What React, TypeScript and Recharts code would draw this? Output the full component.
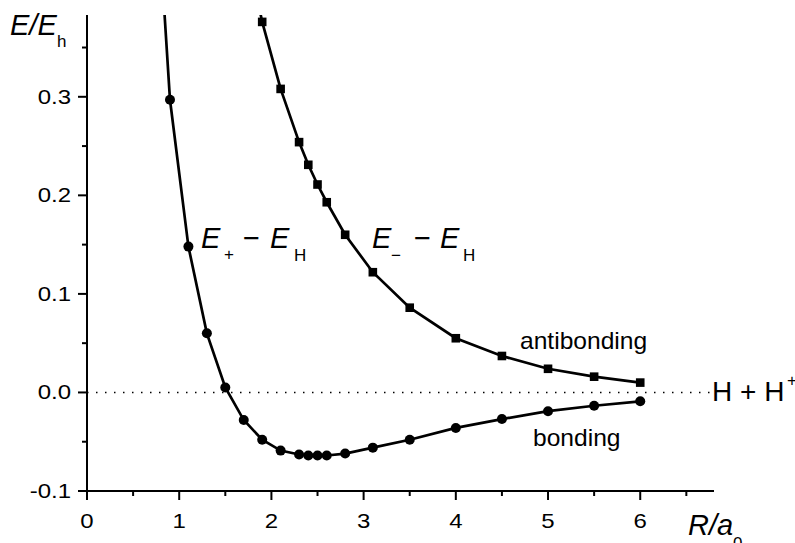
import React from "react";
import { LineChart, Line, XAxis, YAxis, ReferenceLine } from "recharts";

// R / a0 and E / Eh
const bondingR = [0.8, 0.9, 1.1, 1.3, 1.5, 1.7, 1.9, 2.1, 2.3, 2.4, 2.5, 2.6, 2.8, 3.1, 3.5, 4.0, 4.5, 5.0, 5.5, 6.0];
const bondingE = [0.444, 0.297, 0.148, 0.06, 0.005, -0.028, -0.048, -0.059, -0.063, -0.064, -0.064, -0.064, -0.062, -0.056, -0.048, -0.036, -0.027, -0.019, -0.0135, -0.009];

const antibondingR = [1.8, 1.9, 2.1, 2.3, 2.4, 2.5, 2.6, 2.8, 3.1, 3.5, 4.0, 4.5, 5.0, 5.5, 6.0];
const antibondingE = [0.42, 0.376, 0.308, 0.254, 0.231, 0.211, 0.193, 0.16, 0.122, 0.086, 0.055, 0.037, 0.024, 0.016, 0.01];

const xTicks = [0, 0.5, 1, 1.5, 2, 2.5, 3, 3.5, 4, 4.5, 5, 5.5, 6, 6.5];
const yTicks = [-0.1, -0.05, 0, 0.05, 0.1, 0.15, 0.2, 0.25, 0.3, 0.35];

const X_MAX = 6.8;
const Y_MIN = -0.1;
const Y_MAX = 0.383;
const FONT = "'Liberation Sans', Arial, sans-serif";

const bonding = bondingR.map((r, i) => ({ r, e: bondingE[i] }));
const antibonding = antibondingR.map((r, i) => ({ r, e: antibondingE[i] }));

function Txt({ x, y, size, italic = false, sx = 1, anchor = "start", children }: any) {
  return (
    <text
      transform={`translate(${x},${y}) scale(${sx},1)`}
      fontSize={size}
      fontStyle={italic ? "italic" : "normal"}
      fontFamily={FONT}
      textAnchor={anchor}
      fill="#000"
    >
      {children}
    </text>
  );
}

function XTick({ x, y, payload }: any) {
  const v = payload.value;
  const major = Number.isInteger(v);
  return (
    <g>
      <line x1={x} x2={x} y1={y} y2={y + (major ? 9 : 5)} stroke="#000" strokeWidth={2} />
      {major && <Txt x={x} y={y + 37} size={20} sx={1.2} anchor="middle">{String(v)}</Txt>}
    </g>
  );
}

function YTick({ x, y, payload }: any) {
  const v = payload.value;
  const major = Math.abs(v * 10 - Math.round(v * 10)) < 1e-6;
  return (
    <g>
      <line x1={x - (major ? 9 : 5)} x2={x} y1={y} y2={y} stroke="#000" strokeWidth={2} />
      {major && <Txt x={x - 16} y={y + 7} size={20} sx={1.2} anchor="end">{v.toFixed(1)}</Txt>}
    </g>
  );
}

const circleDot = (p: any) => {
  if (p.value > Y_MAX) return <g key={`c${p.index}`} />;
  return <circle key={`c${p.index}`} cx={p.cx} cy={p.cy} r={5} fill="#000" />;
};

const squareDot = (p: any) => {
  if (p.value > Y_MAX) return <g key={`s${p.index}`} />;
  return <rect key={`s${p.index}`} x={p.cx - 4.3} y={p.cy - 4.3} width={8.6} height={8.6} fill="#000" />;
};

export default function App() {
  return (
    <div style={{ position: "absolute", left: 0, top: 0, width: 795, height: 543, background: "#fff" }}>
      <LineChart width={795} height={543} margin={{ top: 15, right: 81, bottom: 0, left: 0 }}>
        <XAxis
          type="number"
          dataKey="r"
          domain={[0, X_MAX]}
          ticks={xTicks}
          interval={0}
          allowDataOverflow
          height={52}
          tickSize={0}
          tickMargin={0}
          tickLine={false}
          tick={<XTick />}
          axisLine={{ stroke: "#000", strokeWidth: 2 }}
        />
        <YAxis
          type="number"
          dataKey="e"
          domain={[Y_MIN, Y_MAX]}
          ticks={yTicks}
          interval={0}
          allowDataOverflow
          width={87}
          tickSize={0}
          tickMargin={0}
          tickLine={false}
          tick={<YTick />}
          axisLine={{ stroke: "#000", strokeWidth: 2 }}
        />
        <ReferenceLine y={0} stroke="#000" strokeWidth={1.5} strokeDasharray="1.5 7.5" />
        <Line
          data={bonding}
          dataKey="e"
          type="linear"
          stroke="#000"
          strokeWidth={2.7}
          dot={circleDot}
          activeDot={false}
          isAnimationActive={false}
        />
        <Line
          data={antibonding}
          dataKey="e"
          type="linear"
          stroke="#000"
          strokeWidth={2.7}
          dot={squareDot}
          activeDot={false}
          isAnimationActive={false}
        />
      </LineChart>
      <svg width={795} height={543} style={{ position: "absolute", left: 0, top: 0, pointerEvents: "none" }}>
        <Txt x={10} y={35} size={29} italic>E/E</Txt>
        <Txt x={57} y={47} size={17}>h</Txt>

        <Txt x={688} y={535} size={29} italic>R/a</Txt>
        <Txt x={733} y={549} size={17}>0</Txt>

        <Txt x={201} y={248} size={29} italic>E</Txt>
        <Txt x={224} y={260} size={17}>+</Txt>
        <Txt x={243} y={248} size={29}>−</Txt>
        <Txt x={270} y={248} size={29} italic>E</Txt>
        <Txt x={294} y={261} size={17}>H</Txt>

        <Txt x={372} y={248} size={29} italic>E</Txt>
        <Txt x={391} y={261} size={17}>−</Txt>
        <Txt x={414} y={248} size={29}>−</Txt>
        <Txt x={440} y={248} size={29} italic>E</Txt>
        <Txt x={463} y={261} size={17}>H</Txt>

        <Txt x={520} y={349} size={23} sx={1.07}>antibonding</Txt>
        <Txt x={533} y={446} size={23} sx={1.07}>bonding</Txt>

        <Txt x={712} y={401} size={28}>H + H</Txt>
        <Txt x={787} y={386} size={17}>+</Txt>
      </svg>
    </div>
  );
}
